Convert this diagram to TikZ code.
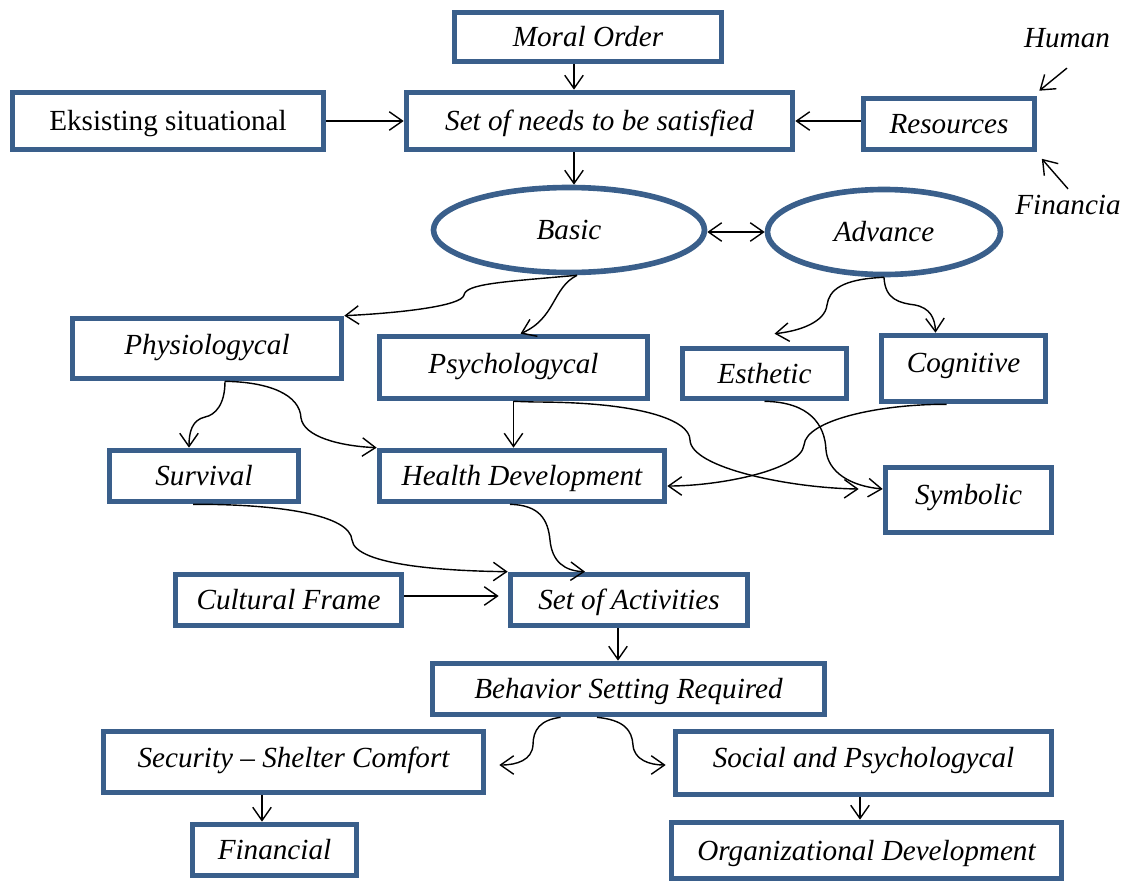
\documentclass[tikz,border=0pt]{standalone}
\usepackage{fontspec}
\setmainfont{Liberation Serif}
\usetikzlibrary{arrows.meta,shapes.geometric}
\definecolor{boxblue}{HTML}{3A5F8B}
\begin{document}
\begin{tikzpicture}[x=0.02cm,y=-0.02cm,
  sz/.style 2 args={minimum width=#1*0.02cm, minimum height=#2*0.02cm},
  txt/.style={font=\fontsize{16.6}{20}\selectfont\itshape},
  box/.style={draw=boxblue, line width=3.2pt, rectangle, inner sep=0pt, text height=11pt, text depth=0pt, txt},
  ell/.style={draw=boxblue, line width=3.2pt, ellipse, inner sep=0pt, text height=11pt, text depth=0pt, txt},
  up/.style={text depth=#1pt},
  lbl/.style={inner sep=0pt, txt},
  arr/.style={-{Straight Barb[length=7.5pt,width=10.5pt]}, line width=0.8pt},
  arrboth/.style={{Straight Barb[length=7.5pt,width=10.5pt]}-{Straight Barb[length=7.5pt,width=10.5pt]}, line width=0.8pt}]
\useasboundingbox (0,0) rectangle (1133,883);

% nodes
\node[box, sz={267}{49}] (moral) at (588,37) {Moral Order};
\node[box, sz={386}{57}] (needs) at (599.5,121) {Set of needs to be satisfied};
\node[box, sz={311}{57}, font=\fontsize{16.6}{20}\selectfont\upshape] (exist) at (168,121) {Eksisting situational};
\node[box, sz={171}{51}] (res) at (949,124) {Resources};
\node[lbl] (human) at (1067,38) {Human};
\node[lbl] (financia) at (1068,205) {Financia};
\node[ell, sz={271}{85}] (basic) at (569,230) {Basic};
\node[ell, sz={233}{85}] (advance) at (884,232) {Advance};
\node[box, sz={269}{60}, up=4] (phys) at (207,348.5) {Physiologycal};
\node[box, sz={268}{62}, up=4] (psych) at (513.5,367.5) {Psychologycal};
\node[box, sz={164}{50}] (esth) at (764.5,373.5) {Esthetic};
\node[box, sz={164}{66}, up=6.3] (cogn) at (963.5,368.5) {Cognitive};
\node[box, sz={189}{51}] (surv) at (204,476) {Survival};
\node[box, sz={285}{51}] (health) at (522,476) {Health Development};
\node[box, sz={166}{65}, up=5.6] (symb) at (968.5,500) {Symbolic};
\node[box, sz={226}{51}] (cult) at (288.5,600) {Cultural Frame};
\node[box, sz={237}{51}] (act) at (629,600) {Set of Activities};
\node[box, sz={392}{51}] (behav) at (628.5,689) {Behavior Setting Required};
\node[box, sz={380}{61}, up=4.5] (secu) at (293.5,762) {Security -- Shelter Comfort};
\node[box, sz={376}{63}, up=5.6] (social) at (863.5,763) {Social and Psychologycal};
\node[box, sz={164}{51}] (fin) at (274.5,850) {Financial};
\node[box, sz={390}{56}] (org) at (866.5,850.5) {Organizational Development};

\coordinate (xa) at (574,0);
\coordinate (xb) at (618,0);
\coordinate (xc) at (262,0);
\coordinate (xd) at (860,0);

% connectors
\draw[arr] (moral.south -| xa) -- (needs.north -| xa);
\draw[arr] (needs.south -| xa) -- (basic.north -| xa);
\draw[arr] (exist.east) -- (needs.west);
\draw[arr] (res.west |- needs) -- (needs.east);
\draw[arr] ([yshift=-0.4cm]human.south) -- ([xshift=0.04cm,yshift=0.1cm]res.north east);
\draw[arr] ([yshift=0.12cm]financia.north) -- ([xshift=0.09cm,yshift=-0.13cm]res.south east);
\draw[arrboth] (basic.east |- advance) -- (advance.west);

\draw[arr] ([xshift=0.16cm]basic.south) .. controls (500,282) and (466,284) .. (464,295) .. controls (462,306) and (400,313) .. (phys.north east);
\draw[arr] ([xshift=0.16cm]basic.south) .. controls (552,288) and (556,318) .. ([xshift=0.14cm]psych.north);
\draw[arr] (advance.south) .. controls (842,279) and (829,290) .. (827,305) .. controls (825,322) and (800,331) .. ([xshift=0.2cm,yshift=0.24cm]esth.north);
\draw[arr] (advance.south) .. controls (885,300) and (900,303) .. (915,305) .. controls (930,308) and (935,318) .. ([xshift=-0.56cm]cogn.north);

\draw[arr] ([xshift=0.36cm]phys.south) .. controls (225,405) and (215,415) .. (205,417) .. controls (192,420) and (189,432) .. ([xshift=-0.3cm]surv.north);
\draw[arr] ([xshift=0.36cm]phys.south) .. controls (270,382) and (300,395) .. (301,418) .. controls (304,437) and (340,446) .. (health.north west);
\draw[arr] (psych.south) -- (psych.south |- health.north);
\draw[arr] (psych.south) -- (535,402) .. controls (640,402) and (690,420) .. (690,440) .. controls (691,468) and (790,488) .. ([xshift=-0.48cm,yshift=0.22cm]symb.west);
\draw[arr] (esth.south) .. controls (810,402) and (825,425) .. (826,450) .. controls (828,472) and (850,486) .. ([yshift=0.22cm]symb.west);
\draw[arr] ([xshift=-0.34cm]cogn.south) .. controls (880,404) and (806,420) .. (804,445) .. controls (801,470) and (720,486) .. ([yshift=-0.2cm]health.east);

\draw[arr] ([xshift=-0.24cm]health.south) .. controls (540,505) and (548,520) .. (550,540) .. controls (552,562) and (565,571) .. ([xshift=-0.88cm]act.north);
\draw[arr] ([xshift=-0.22cm]surv.south) .. controls (280,504) and (350,515) .. (352,540) .. controls (355,566) and (450,571) .. (act.north west);
\draw[arr] ([yshift=0.08cm]cult.east) -- ([xshift=-0.18cm,yshift=0.08cm]act.west);
\draw[arr] (act.south -| xb) -- (behav.north -| xb);

\draw[arr] ([xshift=-1.36cm]behav.south) .. controls (540,720) and (533,730) .. (533,745) .. controls (532,760) and (517,765) .. ([xshift=0.26cm,yshift=-0.06cm]secu.east);
\draw[arr] ([xshift=-0.63cm]behav.south) .. controls (624,720) and (632,730) .. (633,745) .. controls (634,760) and (650,765) .. ([xshift=-0.14cm,yshift=-0.04cm]social.west);
\draw[arr] (secu.south -| xc) -- (fin.north -| xc);
\draw[arr] (social.south -| xd) -- (org.north -| xd);
\end{tikzpicture}
\end{document}
